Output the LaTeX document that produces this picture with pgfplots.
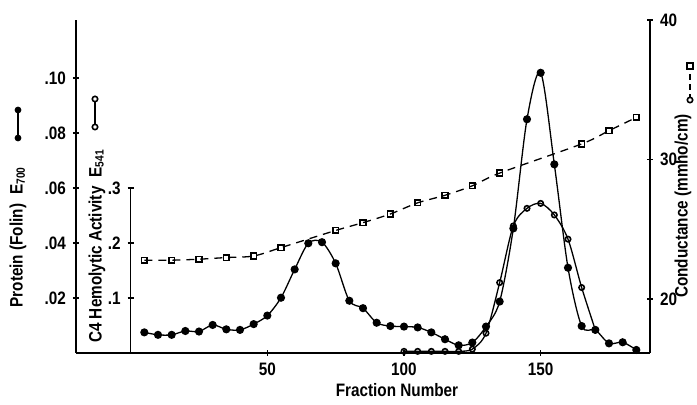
\documentclass[border=0pt]{standalone}
\usepackage{fontspec}
\setmainfont{Liberation Sans}[FakeStretch=0.85]
\usepackage{pgfplots}
\usepackage{pgfplotstable}
\pgfplotsset{compat=1.18}

% protein (Folin), E700
\pgfplotstableread{
x y
5 0.0075
10 0.0066
15 0.0066
20 0.0080
25 0.0078
30 0.0102
35 0.0086
40 0.0084
45 0.0105
50 0.0136
55 0.0201
60 0.0304
65 0.0399
70 0.0403
75 0.0326
80 0.0190
85 0.0163
90 0.0110
95 0.0098
100 0.0096
105 0.0093
110 0.0075
115 0.0050
120 0.0028
125 0.0038
130 0.0096
135 0.0187
140 0.0453
145 0.0850
150 0.1019
155 0.0686
160 0.0310
165 0.0098
170 0.0084
175 0.0035
180 0.0039
185 0.0011
}\protein

% C4 hemolytic activity, E541
\pgfplotstableread{
x y
100 0.003
105 0.003
110 0.003
115 0.003
120 0.003
125 0.007
130 0.036
135 0.128
140 0.231
145 0.263
150 0.272
155 0.251
160 0.207
165 0.119
170 0.042
}\hemo

% conductance, mmho/cm
\pgfplotstableread{
x y
5 22.79
15 22.79
25 22.86
35 22.98
45 23.09
55 23.69
75 24.92
85 25.48
95 26.10
105 26.90
115 27.44
125 28.12
135 29.03
165 31.12
175 32.07
185 33.02
}\cond

\begin{document}
\begin{tikzpicture}[font=\fontsize{9}{10}\bfseries\selectfont]
\pgfplotsset{
  every axis/.append style={
    scale only axis, clip=false,
    tick align=outside, major tick length=3pt,
    tick style={line width=0.7pt, black},
    /pgf/number format/assume math mode=true,
    tick label style={font=\fontsize{9}{10}\bfseries\selectfont},
  },
}

% conductance, right axis
\begin{axis}[width=287pt, height=166.5pt,
  xmin=-20, xmax=190, ymin=16.14, ymax=40,
  axis x line=none, axis y line=right,
  y axis line style={-, line width=0.7pt},
  ytick={20,30,40}]
\addplot[black, line width=0.65pt, dash pattern=on 4pt off 3pt, smooth,
  mark=square, mark size=1.4pt, mark options={solid, fill=white, line width=0.8pt}] table {\cond};
\end{axis}

% C4 hemolytic activity, inner left axis
\begin{axis}[at={(27.333pt,0pt)}, width=259.667pt, height=82.5pt,
  xmin=0, xmax=190, ymin=0, ymax=0.3,
  axis x line=none, axis y line=left,
  y axis line style={-, line width=0.7pt},
  ytick={0.1,0.2,0.3}, yticklabels={.1,.2,.3}]
\addplot[black, line width=0.65pt, smooth,
  mark=o, mark size=1.35pt, mark options={fill=white, line width=0.8pt}] table {\hemo};
\end{axis}

% protein, outer left axis
\begin{axis}[width=287pt, height=166.5pt,
  xmin=-20, xmax=190, ymin=0, ymax=0.12109,
  axis x line=bottom, axis y line=left,
  x axis line style={-, line width=0.7pt},
  y axis line style={-, line width=0.7pt},
  xtick={50,100,150},
  ytick={0.02,0.04,0.06,0.08,0.10}, yticklabels={.02,.04,.06,.08,.10}]
\addplot[black, line width=0.65pt, smooth,
  mark=*, mark size=1.7pt] table {\protein};
\end{axis}

% axis titles and their keys
\node[rotate=90] at (-29pt,58pt) {Protein (Folin)\enspace E\textsubscript{700}};
\draw[line width=0.65pt] (-29pt,107.5pt) -- (-29pt,121.5pt);
\fill (-29pt,107.5pt) circle (1.7pt) (-29pt,121.5pt) circle (1.7pt);

\node[rotate=90] at (10.5pt,53.5pt) {C4 Hemolytic Activity\enspace E\textsubscript{541}};
\draw[line width=0.65pt] (9.5pt,113pt) -- (9.5pt,127pt);
\draw[line width=0.8pt, fill=white] (9.5pt,113pt) circle (1.35pt) (9.5pt,127pt) circle (1.35pt);

\node[rotate=90] at (303.5pt,73.5pt) {Conductance (mmho/cm)};
\draw[line width=0.65pt, dash pattern=on 3pt off 2pt] (307pt,126.5pt) -- (307pt,143.5pt);
\draw[line width=0.8pt, fill=white] (307pt,126.5pt) circle (1.35pt);
\draw[line width=0.8pt, fill=white] (305.6pt,142.1pt) rectangle (308.4pt,144.9pt);

\node at (160.5pt,-18.5pt) {Fraction Number};

\pgfresetboundingbox
\path[use as bounding box] (-38pt,-26pt) rectangle (310.5pt,176.5pt);
\end{tikzpicture}
\end{document}
